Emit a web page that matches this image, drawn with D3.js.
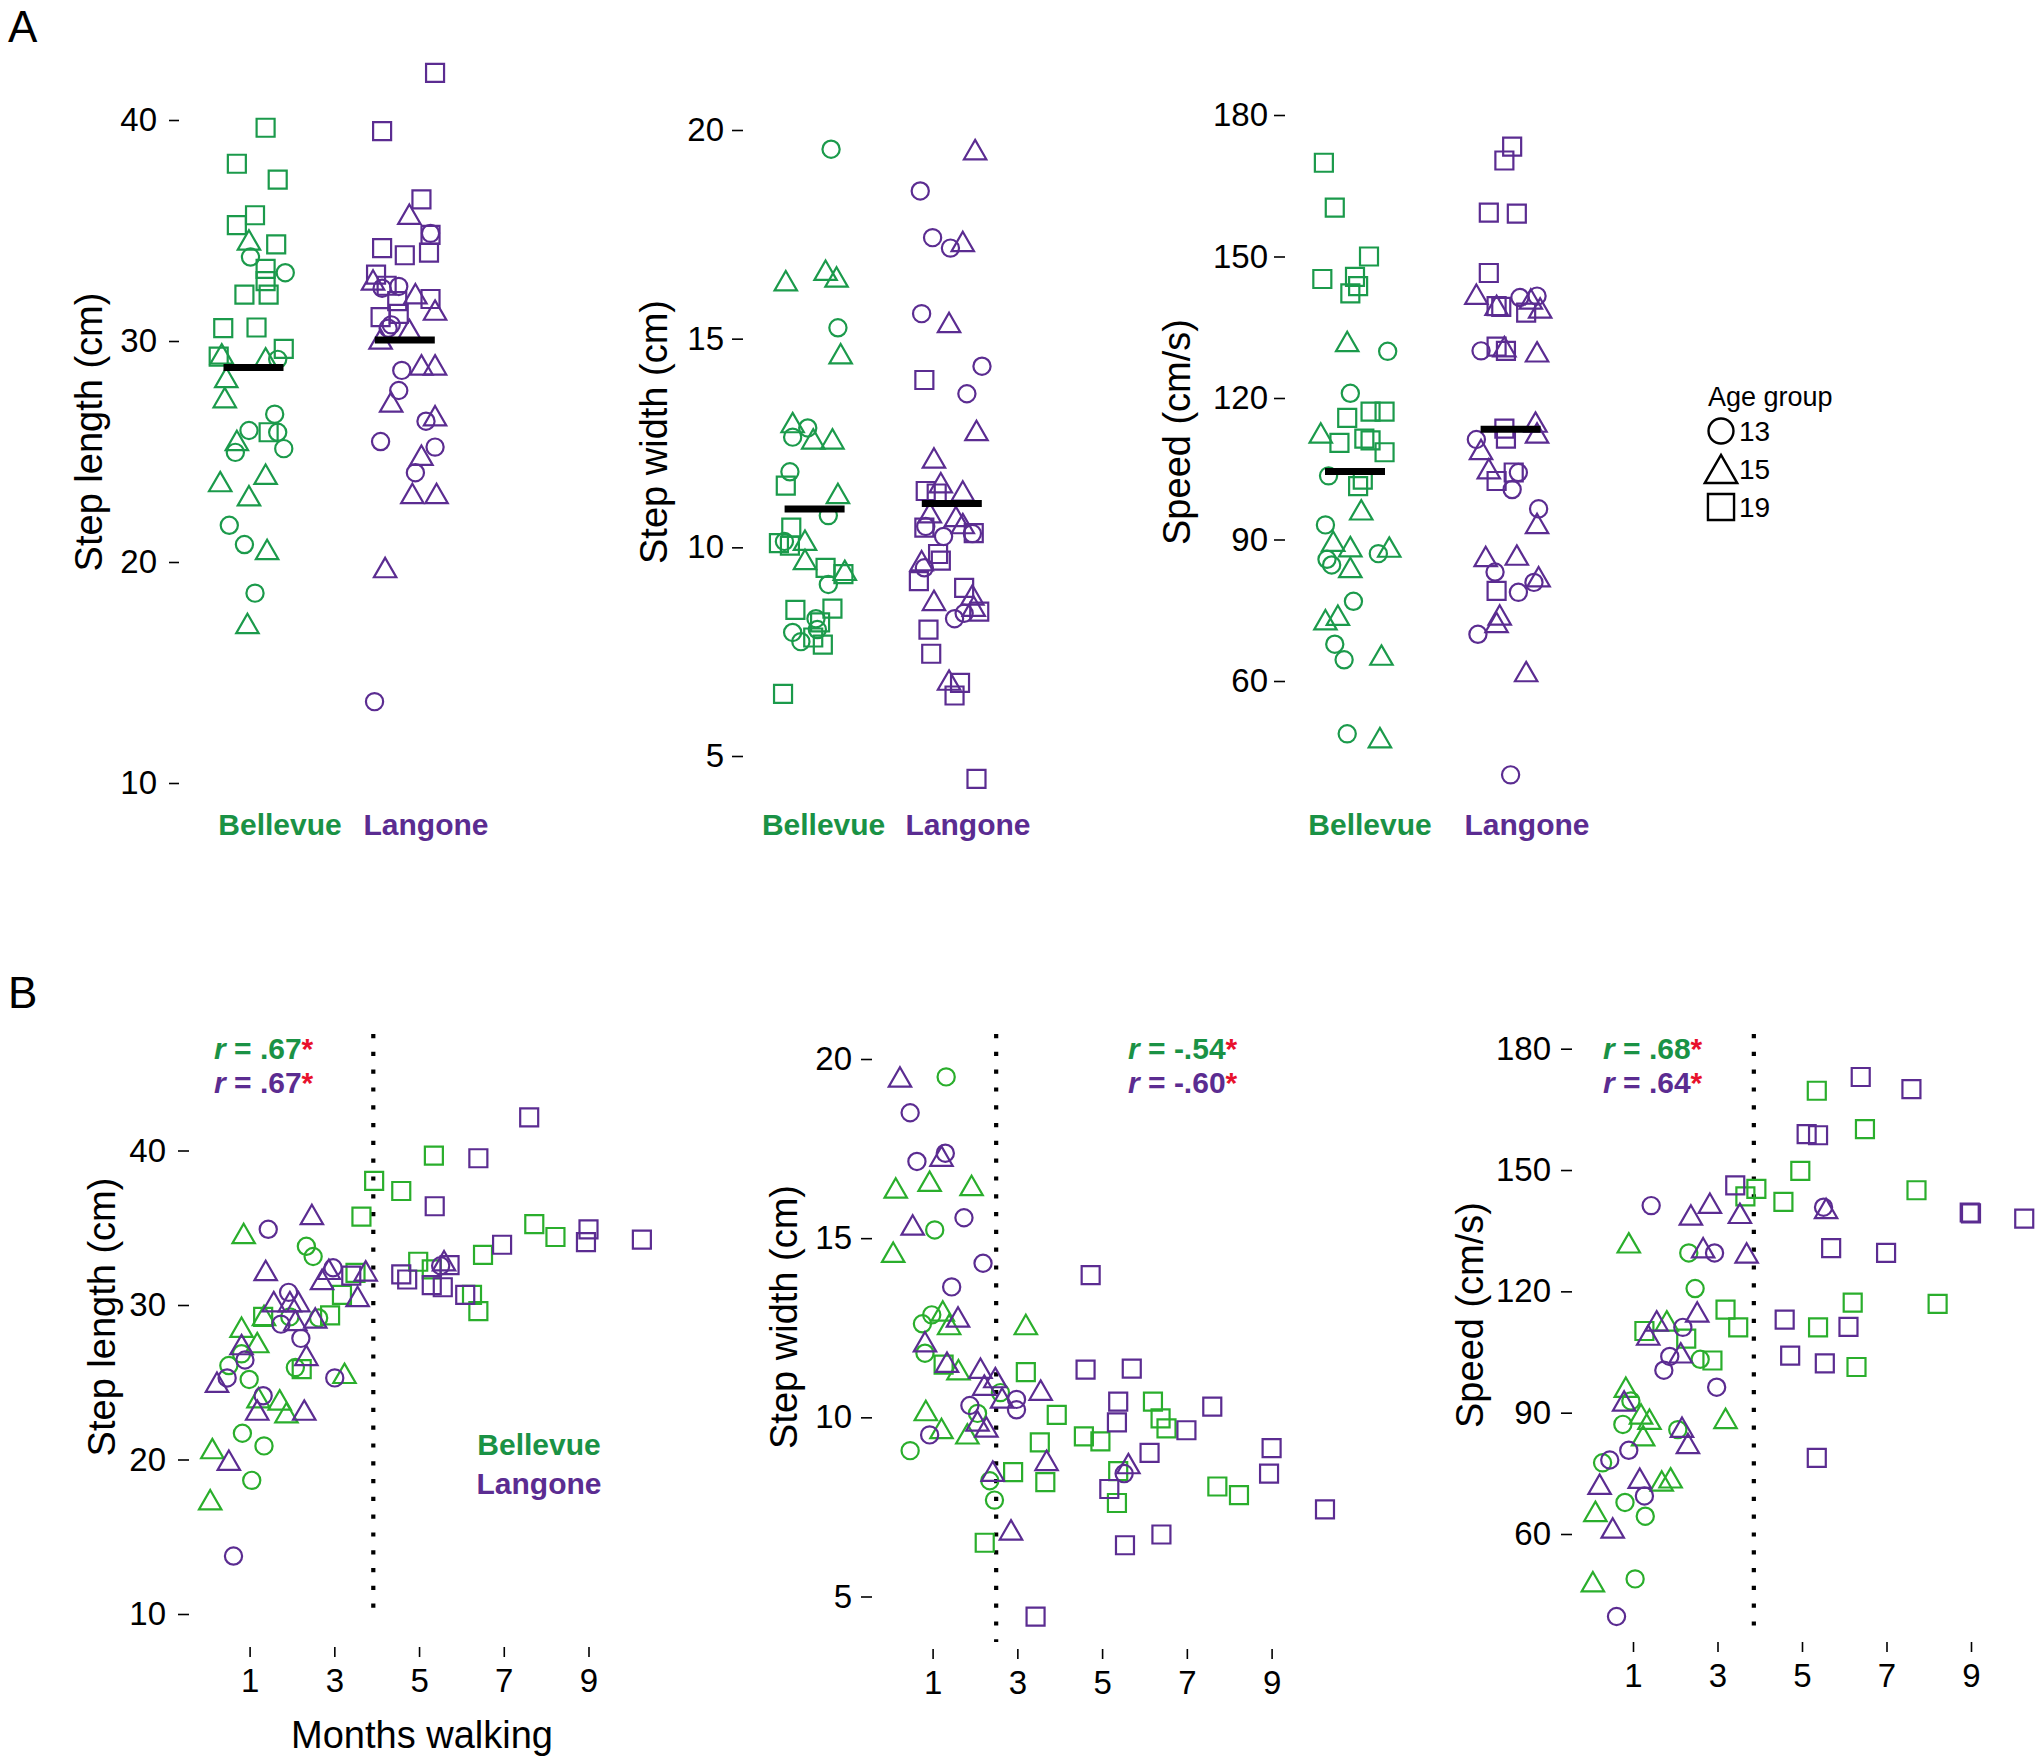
<!DOCTYPE html>
<html>
<head>
<meta charset="utf-8">
<script src="https://cdn.jsdelivr.net/npm/d3@7"></script>
<style>
  html, body { margin: 0; padding: 0; background: #fff; }
  svg { display: block; }
</style>
</head>
<body>
<script>
// ---------------- DATA ----------------
const sites = ["Bellevue", "Langone"];
const ageGroups = [13, 15, 19];

// Panel A strip charts: rows [ageGroup, jitter (category units), value]
const lengthBellevueA = [
  [19,0.08,39.65],[19,-0.11,38.02],[19,0.16,37.3],[19,0.01,35.69],[19,-0.11,35.24],[19,0.15,34.37],[19,0.08,33.26],[19,0.08,32.71],[19,-0.06,32.1],[19,0.1,32.1],[19,-0.2,30.58],[19,0.02,30.61],[19,0.2,29.64],[19,-0.23,29.29],[19,0.1,25.87],
  [15,-0.03,34.57],[15,-0.21,29.42],[15,-0.18,28.35],[15,-0.19,27.44],[15,-0.11,25.5],[15,-0.22,23.64],[15,0.08,23.97],[15,-0.03,23.0],[15,0.09,20.57],[15,-0.04,17.22],[15,0.08,29.24],
  [13,-0.02,33.8],[13,0.21,33.09],[13,0.16,29.17],[13,0.14,26.69],[13,-0.03,25.95],[13,0.16,25.87],[13,0.2,25.13],[13,-0.12,24.96],[13,-0.16,21.66],[13,-0.06,20.79],[13,0.01,18.59]
];
const lengthLangoneA = [
  [19,0.2,42.13],[19,-0.15,39.5],[19,0.11,36.41],[19,0.17,34.8],[19,-0.15,34.2],[19,0.0,33.88],[19,0.16,34.0],[19,-0.19,33.0],[19,-0.12,32.5],[19,0.17,31.9],[19,-0.16,31.08],[19,-0.04,31.23],[19,-0.05,31.8],
  [15,0.03,35.74],[15,-0.21,32.76],[15,0.07,32.14],[15,0.2,31.4],[15,-0.16,30.09],[15,0.03,30.53],[15,0.11,28.92],[15,0.2,28.92],[15,-0.09,27.24],[15,0.2,26.62],[15,0.11,24.83],[15,0.05,23.1],[15,0.21,23.1],[15,-0.13,19.75],
  [13,0.17,34.87],[13,-0.15,32.39],[13,-0.04,32.47],[13,-0.09,30.73],[13,-0.11,30.58],[13,-0.02,28.67],[13,-0.04,27.76],[13,-0.16,25.45],[13,0.14,26.37],[13,0.2,25.2],[13,0.07,24.04],[13,-0.2,13.68]
];
const widthBellevueA = [
  [13,0.12,19.54],[13,0.17,15.26],[13,-0.05,12.86],[13,-0.16,12.64],[13,-0.18,11.81],[13,0.1,10.76],[13,-0.22,10.14],[13,0.1,9.11],[13,0.01,8.29],[13,-0.16,7.96],[13,-0.1,7.74],[13,0.02,8.03],
  [15,-0.21,16.39],[15,0.08,16.64],[15,0.16,16.48],[15,0.19,14.64],[15,-0.16,12.99],[15,-0.01,12.6],[15,0.13,12.6],[15,0.17,11.29],[15,-0.07,10.17],[15,-0.07,9.71],[15,0.22,9.45],
  [19,-0.21,11.48],[19,-0.17,10.47],[19,-0.26,10.1],[19,-0.18,10.04],[19,0.08,9.51],[19,0.21,9.36],[19,-0.14,8.5],[19,0.13,8.53],[19,0.04,8.2],[19,-0.01,7.84],[19,0.06,7.67],[19,-0.23,6.49]
];
const widthLangoneA = [
  [13,-0.23,18.54],[13,-0.14,17.42],[13,-0.01,17.17],[13,-0.22,15.6],[13,0.22,14.34],[13,0.11,13.68],[13,-0.19,10.5],[13,-0.06,10.26],[13,0.15,10.33],[13,-0.2,9.51],[13,0.02,8.29],[13,0.09,8.42],
  [15,0.17,19.53],[15,0.08,17.33],[15,-0.02,15.39],[15,0.18,12.8],[15,-0.13,12.14],[15,-0.08,11.55],[15,0.08,11.35],[15,-0.16,10.83],[15,0.03,10.74],[15,0.08,10.57],[15,-0.22,9.68],[15,-0.13,8.73],[15,0.15,8.86],[15,-0.02,6.82],[15,0.16,8.59],
  [19,-0.2,14.01],[19,-0.19,11.35],[19,-0.11,11.29],[19,-0.2,10.47],[19,0.16,10.34],[19,-0.1,9.84],[19,-0.08,9.68],[19,-0.24,9.19],[19,0.09,9.03],[19,0.2,8.46],[19,-0.17,8.03],[19,-0.15,7.45],[19,0.06,6.75],[19,0.02,6.45],[19,0.18,4.45]
];
const speedBellevueA = [
  [19,-0.2,169.88],[19,-0.13,160.35],[19,0.09,150.0],[19,-0.21,145.23],[19,0.0,145.7],[19,0.02,143.72],[19,-0.03,142.2],[19,0.1,117.1],[19,0.19,117.1],[19,-0.05,115.8],[19,-0.1,110.5],[19,0.06,111.4],[19,0.1,111.0],[19,0.19,108.5],[19,0.05,102.7],[19,0.02,101.3],
  [15,-0.05,132.0],[15,-0.22,112.6],[15,0.04,96.3],[15,-0.14,89.65],[15,-0.03,88.5],[15,0.22,88.4],[15,-0.03,84.07],[15,-0.19,73.0],[15,-0.11,73.95],[15,0.17,65.5],[15,0.16,48.0],
  [13,0.21,129.9],[13,-0.03,121.0],[13,-0.17,103.5],[13,-0.19,93.1],[13,-0.18,85.8],[13,-0.15,84.6],[13,0.15,87.0],[13,-0.01,76.9],[13,-0.13,67.8],[13,-0.07,64.5],[13,-0.05,48.8]
];
const speedLangoneA = [
  [19,0.01,173.3],[19,-0.04,170.35],[19,-0.14,159.3],[19,0.04,159.1],[19,-0.14,146.5],[19,-0.09,139.5],[19,-0.06,139.3],[19,0.1,138.1],[19,-0.09,130.9],[19,-0.03,130.0],[19,-0.03,111.4],[19,-0.04,113.5],[19,-0.09,102.4],[19,0.02,104.2],[19,-0.09,79.1],
  [15,-0.22,142.0],[15,-0.09,139.65],[15,0.13,141.0],[15,0.19,139.1],[15,-0.04,130.9],[15,0.17,129.8],[15,0.16,114.9],[15,0.17,112.6],[15,-0.19,109.1],[15,-0.14,105.0],[15,0.17,93.4],[15,-0.16,86.4],[15,0.04,86.7],[15,0.18,82.1],[15,-0.07,74.0],[15,-0.09,72.4],[15,0.1,62.0],
  [13,0.06,141.3],[13,0.17,141.6],[13,-0.19,130.0],[13,-0.22,111.2],[13,0.05,104.2],[13,0.01,100.6],[13,0.18,96.5],[13,-0.1,83.1],[13,0.05,78.8],[13,0.15,80.9],[13,-0.21,69.9],[13,0.0,40.1]
];
// Group means shown as black bars [Bellevue, Langone]
const meanLength = [28.8, 30.04];
const meanWidth = [10.92, 11.05];
const meanSpeed = [104.4, 113.4];

// Panel B scatter plots: rows [ageGroup, months walking, value]
const lengthBellevueB = [
  [19,5.35,39.67],[19,3.94,38.04],[19,4.58,37.38],[19,3.64,35.72],[19,7.72,35.23],[19,8.22,34.4],[19,6.51,33.24],[19,4.98,32.8],[19,5.3,32.3],[19,3.5,32.08],[19,3.18,30.65],[19,6.25,30.65],[19,6.4,29.6],[19,2.9,29.33],[19,1.32,29.23],[19,2.23,25.85],
  [15,0.86,34.63],[15,0.81,28.56],[15,1.18,27.57],[15,1.71,23.86],[15,1.87,23.03],[15,1.21,24.0],[15,3.24,25.58],[15,0.12,20.71],[15,0.07,17.4],[15,1.34,29.33],
  [13,2.34,33.8],[13,2.5,33.14],[13,0.51,26.08],[13,0.81,26.84],[13,0.99,25.18],[13,0.83,21.7],[13,1.34,20.88],[13,1.05,18.65],[13,2.08,25.95],[13,2.63,29.16],[13,1.95,29.23]
];
const lengthLangoneB = [
  [19,7.6,42.15],[19,6.4,39.5],[19,5.37,36.39],[19,9.0,34.9],[19,8.94,34.07],[19,10.26,34.23],[19,6.96,33.9],[19,4.58,31.98],[19,4.72,31.65],[19,5.72,32.58],[19,5.3,31.28],[19,5.56,31.15],[19,6.09,30.65],[19,3.4,31.9],
  [15,2.47,35.86],[15,1.38,32.24],[15,1.57,30.22],[15,1.95,30.22],[15,2.15,30.22],[15,2.71,31.65],[15,2.87,32.31],[15,3.74,32.21],[15,3.55,30.55],[15,2.08,29.0],[15,2.55,29.16],[15,0.81,27.44],[15,0.23,25.0],[15,1.18,23.2],[15,2.29,23.2],[15,2.34,26.74],[15,0.51,19.95],[15,5.59,32.87],
  [13,1.44,34.9],[13,1.92,30.82],[13,1.74,28.76],[13,2.21,27.84],[13,0.89,26.44],[13,0.47,25.28],[13,1.32,24.13],[13,3.01,25.28],[13,2.97,32.41],[13,0.62,13.75],[13,5.51,32.54]
];
const widthBellevueB = [
  [13,1.32,19.5],[13,1.05,15.23],[13,0.76,12.61],[13,0.98,12.86],[13,0.82,11.79],[13,0.47,9.07],[13,2.06,10.11],[13,2.6,10.69],[13,2.35,8.23],[13,2.46,7.69],
  [15,0.13,16.4],[15,0.93,16.59],[15,1.92,16.47],[15,0.07,14.61],[15,1.24,12.97],[15,1.39,12.59],[15,3.2,12.59],[15,1.61,11.33],[15,0.84,10.19],[15,1.21,9.69],[15,1.82,9.54],
  [19,1.26,11.47],[19,3.2,11.26],[19,3.93,10.07],[19,6.2,10.44],[19,6.38,9.97],[19,6.52,9.69],[19,4.57,9.47],[19,4.96,9.33],[19,3.53,9.3],[19,2.9,8.47],[19,3.66,8.19],[19,5.38,8.5],[19,5.35,7.61],[19,7.72,8.07],[19,8.23,7.83],[19,2.23,6.5]
];
const widthLangoneB = [
  [15,0.23,19.5],[15,1.21,17.29],[15,0.53,15.37],[15,1.6,12.8],[15,0.82,12.11],[15,1.34,11.54],[15,2.13,11.37],[15,2.48,11.11],[15,2.22,10.9],[15,2.64,10.54],[15,3.55,10.76],[15,3.69,8.8],[15,5.62,8.71],[15,2.06,9.9],[15,2.27,9.73],[15,2.42,8.5],[15,2.85,6.86],
  [13,0.47,18.5],[13,0.63,17.14],[13,1.3,17.37],[13,1.74,15.57],[13,2.19,14.3],[13,1.45,13.64],[13,1.88,10.33],[13,2.98,10.5],[13,2.98,10.21],[13,0.93,9.51],[13,5.52,8.43],
  [19,4.73,13.97],[19,4.61,11.33],[19,5.7,11.36],[19,5.38,10.44],[19,7.6,10.3],[19,5.35,9.86],[19,6.99,9.64],[19,6.12,9.01],[19,9.0,9.14],[19,8.94,8.43],[19,5.17,8.0],[19,10.26,7.43],[19,6.4,6.73],[19,5.54,6.43],[19,3.43,4.44]
];
const speedBellevueB = [
  [19,5.35,169.6],[19,6.49,160.1],[19,4.96,149.8],[19,3.92,145.35],[19,3.66,143.5],[19,4.56,142.1],[19,7.71,145.0],[19,6.2,117.2],[19,8.21,116.9],[19,3.19,115.5],[19,3.49,111.1],[19,5.38,111.1],[19,1.27,110.2],[19,2.26,108.3],[19,2.88,102.9],[19,6.29,101.3],
  [15,0.9,132.0],[15,1.8,112.7],[15,0.83,96.3],[15,1.39,88.4],[15,1.19,89.7],[15,1.24,84.3],[15,3.19,88.6],[15,1.68,73.1],[15,1.89,73.9],[15,0.11,65.6],[15,0.05,48.2],
  [13,2.32,129.5],[13,2.47,120.7],[13,2.59,103.2],[13,0.95,92.9],[13,0.76,87.1],[13,2.06,85.8],[13,0.28,77.6],[13,0.81,67.8],[13,1.29,64.4],[13,1.05,48.9]
];
const speedLangoneB = [
  [19,6.39,173.0],[19,7.59,170.0],[19,5.11,158.9],[19,5.38,158.6],[19,3.42,146.2],[19,8.97,139.5],[19,9.0,139.3],[19,10.26,138.0],[19,5.69,130.7],[19,6.99,129.5],[19,4.59,113.0],[19,6.1,111.2],[19,4.72,104.1],[19,5.54,102.2],[19,5.35,78.8],
  [15,2.82,141.8],[15,2.37,138.9],[15,3.53,139.3],[15,2.66,130.8],[15,3.69,129.5],[15,1.56,112.7],[15,1.36,109.2],[15,2.52,114.9],[15,2.13,104.8],[15,0.79,92.9],[15,2.16,86.4],[15,2.3,82.4],[15,0.21,72.3],[15,1.16,73.8],[15,0.52,61.5],[15,5.57,140.5],
  [13,1.43,141.2],[13,2.93,129.5],[13,2.18,111.1],[13,1.87,103.9],[13,1.73,100.5],[13,2.98,96.3],[13,0.45,78.3],[13,0.9,80.7],[13,1.27,69.4],[13,0.61,39.6],[13,5.51,140.8]
];
// Correlations [Bellevue, Langone] and the dotted cut-off (months)
const rLength = [".67", ".67"];
const rWidth = ["-.54", "-.60"];
const rSpeed = [".68", ".64"];
const cutoffMonths = [3.92, 2.5, 3.86];

// Tick labels
const ticksLength = [10, 20, 30, 40];
const ticksWidth = [5, 10, 15, 20];
const ticksSpeed = [60, 90, 120, 150, 180];
const ticksMonths = [1, 3, 5, 7, 9];

// ---------------- STYLE / LAYOUT ----------------
const FONT = "'Liberation Sans', Arial, Helvetica, sans-serif";
const GREEN_A = "#1b9a4b", GREEN_B = "#2aae2c", GREEN_T = "#1a9245", PURPLE = "#5b2c91", RED = "#e8112d";

const svg = d3.select("body").append("svg")
  .attr("width", 2040).attr("height", 1762)
  .style("font-family", FONT);

function shapePath(age, cx, cy, s) {
  s = s || 1;
  const p = d3.path();
  if (age === 13) {
    const r = 8.6 * s;
    p.moveTo(cx + r, cy); p.arc(cx, cy, r, 0, 2 * Math.PI);
  } else if (age === 15) {
    const hw = 11.2 * s, hh = 9.7 * s;
    p.moveTo(cx, cy - hh); p.lineTo(cx + hw, cy + hh); p.lineTo(cx - hw, cy + hh); p.closePath();
  } else {
    const h = 9 * s;
    p.rect(cx - h, cy - h, 2 * h, 2 * h);
  }
  return p.toString();
}

function styleAxis(g, fs) {
  g.select(".domain").remove();
  g.selectAll(".tick line").attr("stroke", "#000").attr("stroke-width", 1.6);
  g.selectAll(".tick text").attr("fill", "#000").style("font-size", fs + "px").style("font-family", FONT);
}

function yTitle(text, x, y) {
  svg.append("text").attr("transform", `translate(${x},${y}) rotate(-90)`)
    .attr("text-anchor", "middle").style("font-size", "38px").attr("fill", "#000").text(text);
}

// ---------- Panel A ----------
const panelsA = [
  { data: [lengthBellevueA, lengthLangoneA], means: meanLength, ticks: ticksLength, yDom: [10, 40], yRange: [783, 120],
    xRange: [253.5, 404.8], axisX: 179, tickLen: 10, pad: 12, title: "Step length (cm)", titleX: 102, labelX: [280, 426] },
  { data: [widthBellevueA, widthLangoneA], means: meanWidth, ticks: ticksWidth, yDom: [5, 20], yRange: [756, 130],
    xRange: [814.6, 951.8], axisX: 743, tickLen: 11, pad: 8, title: "Step width (cm)", titleX: 667, labelX: [823.6, 968] },
  { data: [speedBellevueA, speedLangoneA], means: meanSpeed, ticks: ticksSpeed, yDom: [60, 180], yRange: [681, 115],
    xRange: [1355, 1510.6], axisX: 1285, tickLen: 11, pad: 6, title: "Speed (cm/s)", titleX: 1190, labelX: [1370, 1527] }
];

panelsA.forEach(P => {
  const y = d3.scaleLinear().domain(P.yDom).range(P.yRange);
  const x = d3.scaleLinear().domain([1, 2]).range(P.xRange);
  const gA = svg.append("g").attr("transform", `translate(${P.axisX},0)`)
    .call(d3.axisLeft(y).tickValues(P.ticks).tickSize(P.tickLen).tickPadding(P.pad).tickFormat(d3.format("d")));
  styleAxis(gA, 33);
  yTitle(P.title, P.titleX, 432);
  P.data.forEach((rows, si) => {
    const col = si === 0 ? GREEN_A : PURPLE;
    svg.append("g").selectAll("path").data(rows).join("path")
      .attr("d", d => shapePath(d[0], x(si + 1 + d[1]), y(d[2])))
      .attr("fill", "none").attr("stroke", col).attr("stroke-width", 2.2);
  });
  P.means.forEach((m, si) => {
    svg.append("line").attr("x1", x(si + 1) - 30).attr("x2", x(si + 1) + 30)
      .attr("y1", y(m)).attr("y2", y(m)).attr("stroke", "#000").attr("stroke-width", 7);
  });
  sites.forEach((s, si) => {
    svg.append("text").attr("x", P.labelX[si]).attr("y", 835).attr("text-anchor", "middle")
      .style("font-size", "30px").style("font-weight", "bold")
      .attr("fill", si === 0 ? GREEN_T : PURPLE).text(s);
  });
});

// Legend (age group)
svg.append("text").attr("x", 1708).attr("y", 406).style("font-size", "27px").attr("fill", "#000").text("Age group");
ageGroups.forEach((a, i) => {
  const cy = 431 + i * 38;
  svg.append("path").attr("d", shapePath(a, 1721, cy, 1.45)).attr("fill", "none").attr("stroke", "#000").attr("stroke-width", 2.4);
  svg.append("text").attr("x", 1739).attr("y", cy + 10).style("font-size", "28px").attr("fill", "#000").text(a);
});

// Panel letters
svg.append("text").attr("x", 8).attr("y", 42).style("font-size", "44px").attr("fill", "#000").text("A");
svg.append("text").attr("x", 8).attr("y", 1008).style("font-size", "44px").attr("fill", "#000").text("B");

// ---------- Panel B ----------
const panelsB = [
  { data: [lengthBellevueB, lengthLangoneB], r: rLength, ticks: ticksLength, yDom: [10, 40], yRange: [1614, 1150.5],
    xRange: [249.6, 588.5], axisX: 189, pad: 12, xAxisY: 1647, title: "Step length (cm)", titleX: 115, titleY: 1317,
    cutoff: cutoffMonths[0], dotBottom: 1621, rX: 214 },
  { data: [widthBellevueB, widthLangoneB], r: rWidth, ticks: ticksWidth, yDom: [5, 20], yRange: [1596.5, 1059],
    xRange: [932.6, 1271.6], axisX: 872, pad: 9, xAxisY: 1649, title: "Step width (cm)", titleX: 797, titleY: 1317,
    cutoff: cutoffMonths[1], dotBottom: 1642, rX: 1128 },
  { data: [speedBellevueB, speedLangoneB], r: rSpeed, ticks: ticksSpeed, yDom: [60, 180], yRange: [1534, 1048.7],
    xRange: [1633, 1971], axisX: 1572, pad: 10, xAxisY: 1642, title: "Speed (cm/s)", titleX: 1483, titleY: 1315,
    cutoff: cutoffMonths[2], dotBottom: 1637, rX: 1603 }
];

panelsB.forEach(P => {
  const y = d3.scaleLinear().domain(P.yDom).range(P.yRange);
  const x = d3.scaleLinear().domain([1, 9]).range(P.xRange);
  const gy = svg.append("g").attr("transform", `translate(${P.axisX},0)`)
    .call(d3.axisLeft(y).tickValues(P.ticks).tickSize(11).tickPadding(P.pad).tickFormat(d3.format("d")));
  styleAxis(gy, 33);
  const gx = svg.append("g").attr("transform", `translate(0,${P.xAxisY})`)
    .call(d3.axisBottom(x).tickValues(ticksMonths).tickSize(10).tickPadding(12).tickFormat(d3.format("d")));
  styleAxis(gx, 33);
  yTitle(P.title, P.titleX, P.titleY);
  // dotted cutoff
  svg.append("line").attr("x1", x(P.cutoff)).attr("x2", x(P.cutoff)).attr("y1", 1034).attr("y2", P.dotBottom)
    .attr("stroke", "#000").attr("stroke-width", 4.2).attr("stroke-dasharray", "4.2,13.6");
  P.data.forEach((rows, si) => {
    const col = si === 0 ? GREEN_B : PURPLE;
    svg.append("g").selectAll("path").data(rows).join("path")
      .attr("d", d => shapePath(d[0], x(d[1]), y(d[2])))
      .attr("fill", "none").attr("stroke", col).attr("stroke-width", 2.2);
  });
  P.r.forEach((rv, si) => {
    const t = svg.append("text").attr("x", P.rX).attr("y", 1059 + si * 34)
      .style("font-size", "30px").style("font-weight", "bold").attr("fill", si === 0 ? GREEN_T : PURPLE);
    t.append("tspan").style("font-style", "italic").text("r");
    t.append("tspan").text(" = " + rv);
    t.append("tspan").attr("fill", RED).text("*");
  });
});

// x-axis title (first B panel) and site legend
svg.append("text").attr("x", 422).attr("y", 1748).attr("text-anchor", "middle").style("font-size", "38px").attr("fill", "#000").text("Months walking");
sites.forEach((s, si) => {
  svg.append("text").attr("x", 539).attr("y", 1455 + si * 39).attr("text-anchor", "middle")
    .style("font-size", "30px").style("font-weight", "bold").attr("fill", si === 0 ? GREEN_T : PURPLE).text(s);
});
</script>
</body>
</html>
